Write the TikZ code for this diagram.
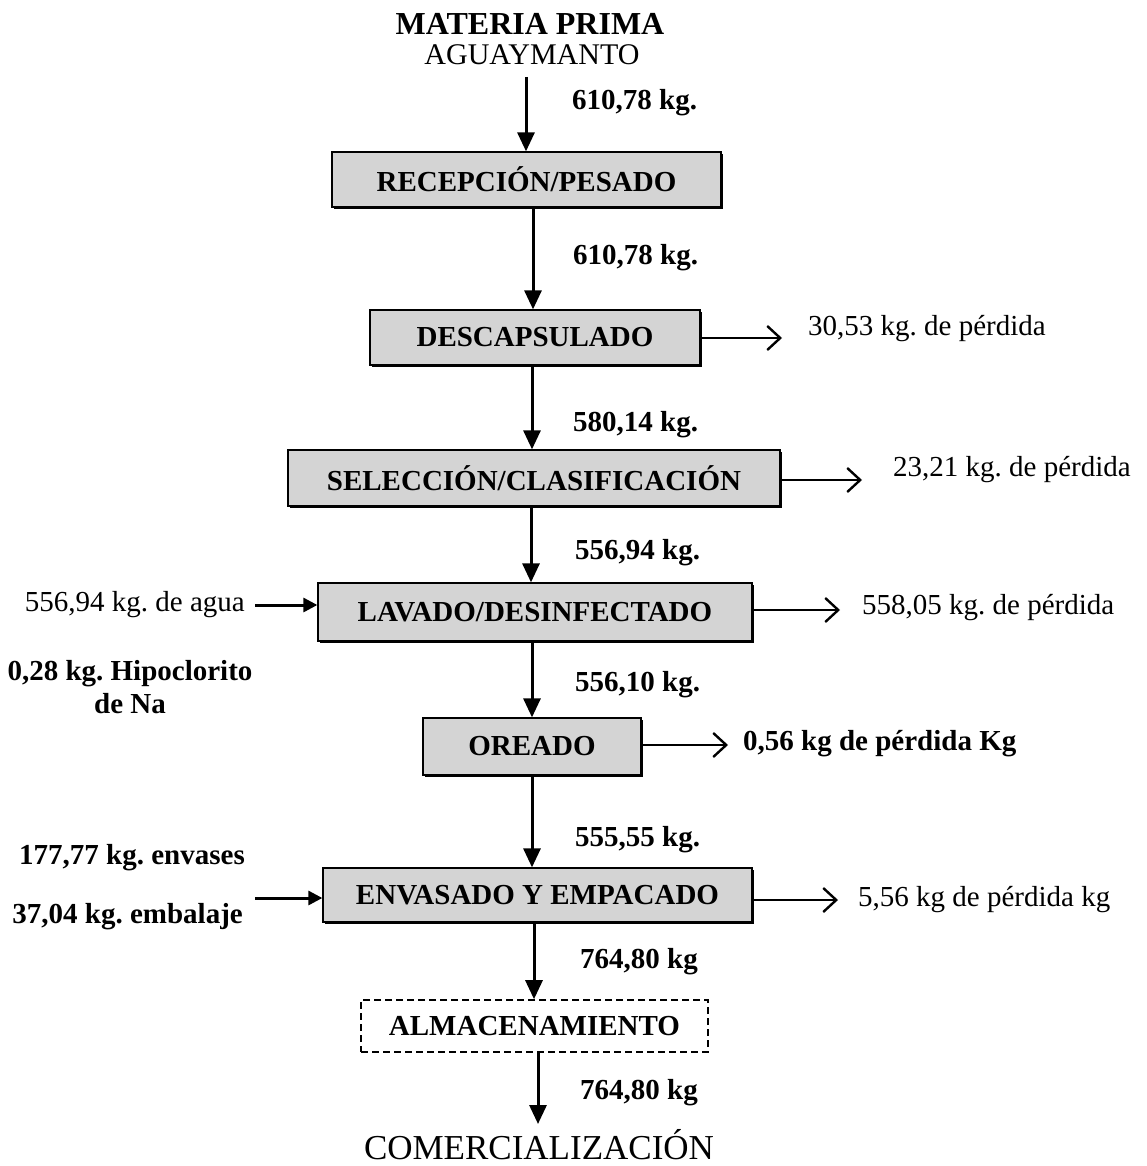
\documentclass[tikz,border=0pt]{standalone}
\usepackage{fontspec}
\setmainfont{Liberation Serif}
\usetikzlibrary{arrows.meta,shadows}
\begin{document}
\frenchspacing
\begin{tikzpicture}[x=1pt,y=-1pt,
  proc/.style={draw=black,line width=1.3pt,fill=black!17,inner sep=0pt,
    font=\fontsize{29}{34}\selectfont\bfseries,
    drop shadow={shadow xshift=1.8pt,shadow yshift=-2pt,fill=black,opacity=1}},
  lbl/.style={font=\fontsize{29}{34}\selectfont\bfseries,inner sep=0pt,anchor=west},
  lblr/.style={font=\fontsize{29}{34}\selectfont,inner sep=0pt,anchor=west},
  lbll/.style={font=\fontsize{29}{34}\selectfont,inner sep=0pt,anchor=east},
  down/.style={line width=3pt,-{Triangle[length=19pt,width=17pt]}},
  side/.style={line width=2.4pt,-{Straight Barb[length=13pt,width=24pt,line width=2.4pt]}},
  feed/.style={line width=3pt,-{Triangle[length=14pt,width=14pt]}}]
\useasboundingbox (0,0) rectangle (1146,1166);
\fill[white] (0,0) rectangle (1146,1166);

\node[font=\fontsize{32}{36}\selectfont\bfseries,inner sep=0pt] (mp) at (530,24) {MATERIA PRIMA};
\node[font=\fontsize{30}{34}\selectfont,inner sep=0pt] (ag) at (532,55) {AGUAYMANTO};
\coordinate (agb) at (526,77);

\node[proc,minimum width=389pt,minimum height=55pt] (b1) at (526.5,179.5) {RECEPCIÓN/PESADO};
\node[proc,minimum width=330pt,minimum height=55pt] (b2) at (535,337.5) {DESCAPSULADO};
\node[proc,minimum width=492pt,minimum height=56pt] (b3) at (534,478) {SELECCIÓN/CLASIFICACIÓN};
\node[proc,minimum width=434pt,minimum height=58pt] (b4) at (535,612) {LAVADO/DESINFECTADO};
\node[proc,minimum width=218pt,minimum height=57pt] (b5) at (532,746.5) {OREADO};
\node[proc,minimum width=429pt,minimum height=54pt] (b6) at (537.5,895) {ENVASADO Y EMPACADO};
\node[draw=black,line width=1.6pt,dash pattern=on 7pt off 4pt,inner sep=0pt,
  minimum width=347pt,minimum height=52pt,font=\fontsize{29}{34}\selectfont\bfseries] (b7) at (534.5,1026) {ALMACENAMIENTO};
\node[font=\fontsize{35}{40}\selectfont,inner sep=0pt] (com) at (539,1145) {COMERCIALIZACIÓN};
\coordinate (comt) at (538,1124);

% x positions of the vertical connectors
\coordinate (x1) at (526,0);
\coordinate (x2) at (533,0);
\coordinate (x3) at (532,0);
\coordinate (x4) at (531,0);
\coordinate (x5) at (532,0);
\coordinate (x6) at (534,0);
\coordinate (x7) at (538,0);

% vertical flow
\draw[down] (agb) -- (b1.north -| x1);
\draw[down] (b1.south -| x2) -- (b2.north -| x2);
\draw[down] (b2.south -| x3) -- (b3.north -| x3);
\draw[down] (b3.south -| x4) -- (b4.north -| x4);
\draw[down] (b4.south -| x5) -- (b5.north -| x5);
\draw[down] (b5.south -| x5) -- (b6.north -| x5);
\draw[down] (b6.south -| x6) -- (b7.north -| x6);
\draw[down] (b7.south -| x7) -- (comt);

\node[lbl] (l1) at (572,103) {610,78 kg.};
\node[lbl] (l2) at (573,258) {610,78 kg.};
\node[lbl] (l3) at (573,425) {580,14 kg.};
\node[lbl] (l4) at (575,553) {556,94 kg.};
\node[lbl] (l5) at (575,685) {556,10 kg.};
\node[lbl] (l6) at (575,840) {555,55 kg.};
\node[lbl] (l7) at (580,962) {764,80 kg};
\node[lbl] (l8) at (580,1093) {764,80 kg};

% losses
\coordinate (r2) at (782,338);
\coordinate (r3) at (862,480);
\coordinate (r4) at (840,610);
\coordinate (r5) at (728,745);
\coordinate (r6) at (838,900);
\draw[side] (b2.east |- r2) -- (r2);
\draw[side] (b3.east |- r3) -- (r3);
\draw[side] (b4.east |- r4) -- (r4);
\draw[side] (b5.east |- r5) -- (r5);
\draw[side] (b6.east |- r6) -- (r6);
\node[lblr] (p2) at (808,329) {30,53 kg. de pérdida};
\node[lblr] (p3) at (893,470) {23,21 kg. de pérdida};
\node[lblr] (p4) at (862,608) {558,05 kg. de pérdida};
\node[lbl] (p5) at (743,744) {0,56 kg de pérdida Kg};
\node[lblr] (p6) at (858,900) {5,56 kg de pérdida kg};

% inputs
\node[lbll] (w) at (245,605) {556,94 kg. de agua};
\coordinate (wa) at (255,605);
\draw[feed] (wa) -- (b4.west |- wa);
\node[font=\fontsize{29}{33}\selectfont\bfseries,inner sep=0pt,align=center] (hip) at (130,687) {0,28 kg. Hipoclorito\\de Na};
\node[font=\fontsize{29}{34}\selectfont\bfseries,inner sep=0pt,anchor=east] (env) at (245,858) {177,77 kg. envases};
\node[font=\fontsize{29}{34}\selectfont\bfseries,inner sep=0pt,anchor=east] (emb) at (243,917) {37,04 kg. embalaje};
\coordinate (ea) at (255,898);
\draw[feed] (ea) -- (b6.west |- ea);
\end{tikzpicture}
\end{document}
